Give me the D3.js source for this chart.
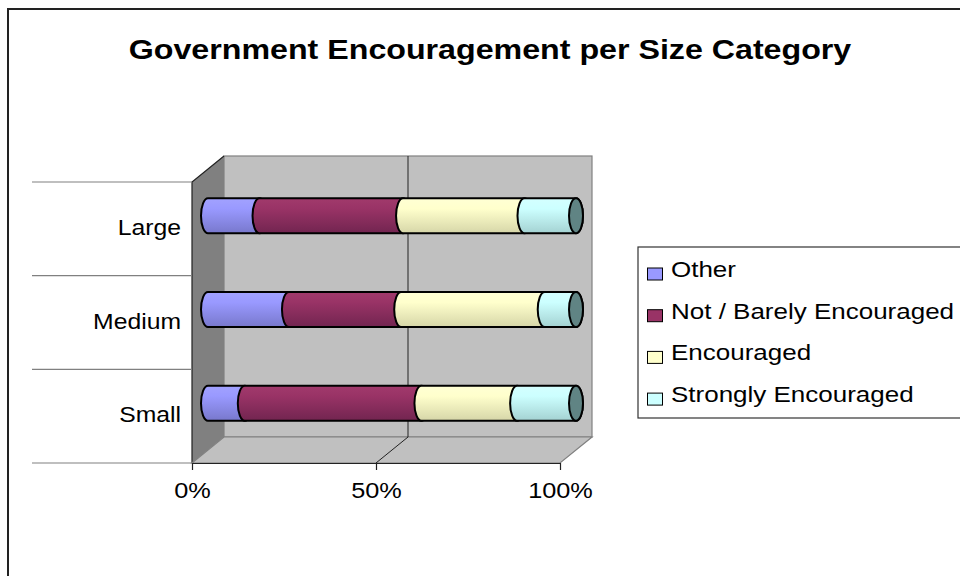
<!DOCTYPE html>
<html>
<head>
<meta charset="utf-8">
<script src="https://cdn.jsdelivr.net/npm/d3@7"></script>
<style>
  html, body { margin: 0; padding: 0; background: #fff; }
  svg { display: block; font-family: "Liberation Sans", Arial, sans-serif; }
</style>
</head>
<body>
<svg id="chart" width="960" height="576"></svg>
<script>
// ---- data ----
const categories = ["Large", "Medium", "Small"];
const seriesNames = ["Other", "Not / Barely Encouraged", "Encouraged", "Strongly Encouraged"];
const other      = [14, 22, 10];
const notBarely  = [39, 30.5, 48];
const encouraged = [33, 39, 26];
const strongly   = [14, 8.5, 16];
const tickValues = [0, 0.5, 1];
const titleText = "Government Encouragement per Size Category";

// ---- styles ----
const baseColors = ["#9999ff", "#993366", "#ffffcc", "#ccffff"];
const topColors  = ["#a2a2ff", "#a13a6c", "#ffffd4", "#d4ffff"];
const botColors  = ["#7878cc", "#722550", "#d6d6a8", "#a4d2d2"];
const capColor = "#608484";
const SX = 1.15; // horizontal text stretch

const svg = d3.select("#chart");
const defs = svg.append("defs");

const seriesValues = [other, notBarely, encouraged, strongly];
const rows = categories.map((c, i) => {
  const r = { cat: c };
  seriesNames.forEach((s, j) => r[s] = seriesValues[j][i]);
  return r;
});
const stacked = d3.stack().keys(seriesNames).offset(d3.stackOffsetExpand)(rows);

// gradients
seriesNames.forEach((s, j) => {
  const g = defs.append("linearGradient").attr("id", "grad" + j)
    .attr("x1", 0).attr("y1", 0).attr("x2", 0).attr("y2", 1);
  g.append("stop").attr("offset", "0%").attr("stop-color", topColors[j]);
  g.append("stop").attr("offset", "30%").attr("stop-color", baseColors[j]);
  g.append("stop").attr("offset", "100%").attr("stop-color", botColors[j]);
});

// outer border
svg.append("rect").attr("x", 8).attr("y", 9).attr("width", 970).attr("height", 600)
  .attr("fill", "none").attr("stroke", "#222").attr("stroke-width", 2);

function stext(x, y, txt, size, anchor, weight) {
  return svg.append("text")
    .attr("transform", `translate(${x},${y}) scale(${SX},1)`)
    .attr("text-anchor", anchor)
    .attr("font-size", size)
    .attr("font-weight", weight || "normal")
    .attr("fill", "#000")
    .text(txt);
}

// title
stext(490, 59, titleText, 28, "middle", "bold");

// scales
const xFront = d3.scaleLinear().domain([0, 1]).range([192, 560]);
const yFront = d3.scaleBand().domain(categories).range([182, 463]);
const DX = 32, DY = -26;
const xMid = v => xFront(v) + DX / 2;
const [y0, y1] = yFront.range();
const [xa, xb] = xFront.range();

// back wall
svg.append("rect").attr("x", xa + DX).attr("y", y0 + DY)
  .attr("width", xb - xa).attr("height", y1 - y0)
  .attr("fill", "#c0c0c0").attr("stroke", "#808080").attr("stroke-width", 1.2);

// left wall
svg.append("path")
  .attr("d", `M${xa},${y0} L${xa + DX},${y0 + DY} L${xa + DX},${y1 + DY} L${xa},${y1} Z`)
  .attr("fill", "#808080").attr("stroke", "none");
svg.append("path")
  .attr("d", `M${xa},${y1} L${xa},${y0} L${xa + DX},${y0 + DY}`)
  .attr("fill", "none").attr("stroke", "#222").attr("stroke-width", 1.2);

// floor
svg.append("path")
  .attr("d", `M${xa},${y1} L${xa + DX},${y1 + DY} L${xb + DX},${y1 + DY} L${xb},${y1} Z`)
  .attr("fill", "#c0c0c0").attr("stroke", "#808080").attr("stroke-width", 1.2);

// gridlines (value)
tickValues.filter(v => v > 0 && v < 1).forEach(v => {
  svg.append("line").attr("x1", xFront(v) + DX).attr("x2", xFront(v) + DX)
    .attr("y1", y0 + DY).attr("y2", y1 + DY).attr("stroke", "#222").attr("stroke-width", 1);
  svg.append("line").attr("x1", xFront(v)).attr("x2", xFront(v) + DX)
    .attr("y1", y1).attr("y2", y1 + DY).attr("stroke", "#222").attr("stroke-width", 1);
});

// category gridlines on left
const bounds = categories.map(c => yFront(c)).concat([y1]);
bounds.forEach(b => {
  svg.append("line").attr("x1", 32).attr("x2", xa).attr("y1", b).attr("y2", b)
    .attr("stroke", "#808080").attr("stroke-width", 1.2);
});

// x axis
const axis = svg.append("g").attr("transform", `translate(0,${y1})`)
  .call(d3.axisBottom(xFront).tickValues(tickValues).tickFormat(d3.format(".0%")).tickSize(7).tickSizeOuter(0));
axis.select(".domain").attr("stroke", "#222").attr("stroke-width", 1.2);
axis.selectAll(".tick line").attr("stroke", "#222").attr("stroke-width", 1.2);
axis.selectAll(".tick text")
  .attr("font-family", "'Liberation Sans', Arial, sans-serif")
  .attr("font-size", 22).attr("fill", "#000")
  .attr("y", 35).attr("dy", 0)
  .attr("transform", `scale(${SX},1)`);

// category labels
categories.forEach(c => {
  stext(181, yFront(c) + yFront.bandwidth() / 2 + 6, c, 21.5, "end");
});

// bars (cylinders)
const barH = 35, ry = barH / 2, rx = 7;
categories.forEach((c, ci) => {
  const cy = yFront(c) + yFront.bandwidth() / 2 + DY / 2;
  stacked.forEach((ser, j) => {
    const d = ser[ci];
    const x0 = xMid(d[0]), x1 = xMid(d[1]);
    const p = `M${x0},${cy - ry} L${x1},${cy - ry} A${rx},${ry} 0 0 1 ${x1},${cy + ry} ` +
              `L${x0},${cy + ry} A${rx},${ry} 0 0 1 ${x0},${cy - ry} Z`;
    svg.append("path").attr("d", p).attr("fill", `url(#grad${j})`)
      .attr("stroke", "#000").attr("stroke-width", 2).attr("stroke-linejoin", "round");
  });
  svg.append("ellipse").attr("cx", xMid(1)).attr("cy", cy).attr("rx", rx).attr("ry", ry)
    .attr("fill", capColor).attr("stroke", "#000").attr("stroke-width", 2);
});

// legend
svg.append("rect").attr("x", 638).attr("y", 247).attr("width", 340).attr("height", 171)
  .attr("fill", "#fff").attr("stroke", "#333").attr("stroke-width", 1.2);
seriesNames.forEach((s, j) => {
  const by = 277 + j * 41.7;
  svg.append("rect").attr("x", 647.5).attr("y", by - 9).attr("width", 15).attr("height", 12)
    .attr("fill", baseColors[j]).attr("stroke", "#000").attr("stroke-width", 1);
  stext(671, by, s, 22.6, "start");
});
</script>
</body>
</html>
